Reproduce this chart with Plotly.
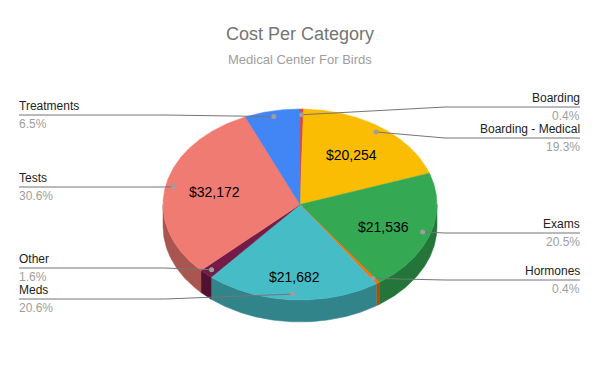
import numpy as np
import plotly.graph_objects as go

# ---------------- data ----------------
categories = ["Boarding", "Boarding - Medical", "Exams", "Hormones",
              "Meds", "Other", "Tests", "Treatments"]
costs = [430, 20254, 21536, 420, 21682, 1700, 32172, 6850]
show_value = [False, True, True, False, True, False, True, False]

# ---------------- styles / layout ----------------
colors = ["#EA4335", "#FBBC04", "#34A853", "#FF6D01",
          "#46BDC6", "#741B47", "#F07B72", "#4285F4"]
FONT = "Arial, Liberation Sans, sans-serif"
W, H = 600, 371
PAGE_MARGIN = 8  # default body margin of the html page
CX, CY, RX, RY, DEPTH = 300, 204.5, 137, 95.5, 22

# label placement (layout): side, leader line y
label_layout = {
    "Boarding": ("right", 107),
    "Boarding - Medical": ("right", 138),
    "Exams": ("right", 233),
    "Hormones": ("right", 280),
    "Meds": ("left", 299),
    "Other": ("left", 268),
    "Tests": ("left", 187),
    "Treatments": ("left", 115),
}
LEFT_X, RIGHT_X = 19, 580
TEXT_PAD = 2
LEFT_ELBOW, RIGHT_ELBOW = 165, 445


def darker(hexc, f=0.7):
    h = hexc.lstrip("#")
    r, g, b = (int(h[i:i + 2], 16) for i in (0, 2, 4))
    return "rgb(%d,%d,%d)" % (r * f, g * f, b * f)


def proj(theta_deg, r=1.0, dz=0.0):
    t = np.radians(theta_deg)
    return CX + RX * r * np.sin(t), CY - RY * r * np.cos(t) + dz


total = float(sum(costs))
fracs = [c / total for c in costs]
starts = np.concatenate([[0], np.cumsum(fracs)[:-1]]) * 360
ends = np.cumsum(fracs) * 360

fig = go.Figure()

# side walls (front half only)
for i, cat in enumerate(categories):
    a, b = max(starts[i], 90), min(ends[i], 270)
    if b <= a:
        continue
    th = np.linspace(a, b, max(4, int((b - a) * 2)))
    xt, yt = proj(th)
    xb, yb = proj(th[::-1], dz=DEPTH)
    xs = np.concatenate([xt, xb, xt[:1]])
    ys = np.concatenate([yt, yb, yt[:1]])
    c = darker(colors[i])
    fig.add_trace(go.Scatter(x=xs, y=ys, fill="toself", mode="lines",
                             fillcolor=c, line=dict(color=c, width=0.5),
                             hoverinfo="skip", showlegend=False))

# top faces
for i, cat in enumerate(categories):
    a, b = starts[i], ends[i]
    th = np.linspace(a, b, max(4, int((b - a) * 2)))
    xa, ya = proj(th)
    xs = np.concatenate([[CX], xa, [CX]])
    ys = np.concatenate([[CY], ya, [CY]])
    fig.add_trace(go.Scatter(x=xs, y=ys, fill="toself", mode="lines",
                             fillcolor=colors[i],
                             line=dict(color=colors[i], width=0.5),
                             hoverinfo="skip", showlegend=False))

annotations = []
# value labels
for i, cat in enumerate(categories):
    if not show_value[i]:
        continue
    mid = (starts[i] + ends[i]) / 2
    x, y = proj(mid, 0.64)
    y += DEPTH * 0.5 * max(0.0, -np.cos(np.radians(mid)))
    annotations.append(dict(x=x, y=y, text="$%s" % format(costs[i], ","),
                            showarrow=False, xref="x", yref="y",
                            font=dict(family=FONT, size=14, color="#000000")))

# leader lines, dots and outside labels
for i, cat in enumerate(categories):
    mid = (starts[i] + ends[i]) / 2
    dx, dy = proj(mid, 0.94)
    side, ly = label_layout[cat]
    if side == "left":
        lx = [float(dx), LEFT_ELBOW, LEFT_X]
        anchor, tx = "left", LEFT_X - TEXT_PAD
    else:
        lx = [float(dx), RIGHT_ELBOW, RIGHT_X]
        anchor, tx = "right", RIGHT_X + TEXT_PAD
    fig.add_trace(go.Scatter(x=lx, y=[float(dy), ly, ly], mode="lines",
                             line=dict(color="#757575", width=1),
                             hoverinfo="skip", showlegend=False))
    fig.add_trace(go.Scatter(x=[dx], y=[dy], mode="markers",
                             marker=dict(color="#9E9E9E", size=5),
                             hoverinfo="skip", showlegend=False))
    annotations.append(dict(x=tx, y=ly - 9, text=cat, showarrow=False,
                            xanchor=anchor, yanchor="middle",
                            font=dict(family=FONT, size=12, color="#222222")))
    annotations.append(dict(x=tx, y=ly + 9, text="%.1f%%" % (fracs[i] * 100),
                            showarrow=False, xanchor=anchor, yanchor="middle",
                            font=dict(family=FONT, size=12, color="#9E9E9E")))

annotations.append(dict(x=300, y=34, text="Cost Per Category", showarrow=False,
                        font=dict(family=FONT, size=18, color="#757575")))
annotations.append(dict(x=300, y=59, text="Medical Center For Birds",
                        showarrow=False,
                        font=dict(family=FONT, size=13, color="#9E9E9E")))

fig.update_layout(
    width=W - PAGE_MARGIN, height=H - PAGE_MARGIN, autosize=False,
    margin=dict(l=0, r=0, t=0, b=0),
    paper_bgcolor="white", plot_bgcolor="white",
    xaxis=dict(range=[PAGE_MARGIN, W], visible=False, fixedrange=True),
    yaxis=dict(range=[H, PAGE_MARGIN], visible=False, fixedrange=True),
    annotations=annotations,
    showlegend=False,
)

fig.write_html("out.html")
